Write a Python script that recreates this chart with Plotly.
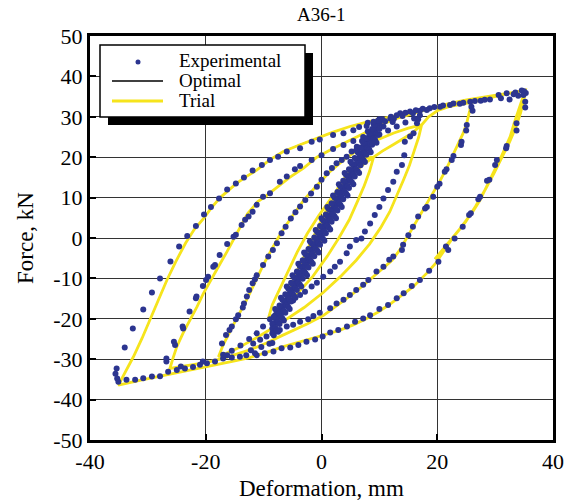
import plotly.graph_objects as go

# ---------------- data (deformation mm, force kN) ----------------
# Trial model path (yellow); Optimal model (black) follows essentially the same path
trial_small = [(0.0, 0.0), (1.5, 5.5), (3.5, 11.0), (2.5, 7.5), (1.0, 2.8), (-1.0, -3.2), (-2.5, -7.0),
               (-3.5, -8.5), (-2.5, -4.5), (-1.0, -0.2), (1.0, 6.0), (3.0, 11.5), (5.0, 16.5), (6.0, 18.5),
               (5.0, 14.8), (3.5, 10.0), (1.5, 4.2), (-1.0, -3.0), (-3.5, -10.0), (-5.5, -15.0), (-6.5, -16.5),
               (-5.5, -12.5), (-4.0, -7.5), (-2.0, -1.5), (0.5, 6.0), (3.0, 12.8), (5.5, 18.0), (7.5, 19.8)]
trial_l9 = [(9.0, 20.0), (8.3, 16.5), (7.4, 13.0), (6.2, 9.0), (4.8, 4.5), (3.0, 0.0), (1.0, -4.5),
            (-1.5, -9.5), (-4.0, -13.5), (-6.5, -17.0), (-9.2, -20.0),
            (-8.5, -16.5), (-7.2, -12.5), (-5.8, -8.0), (-4.2, -3.5), (-2.5, 1.0), (-0.5, 5.5), (1.5, 9.5),
            (3.5, 13.0), (5.5, 16.0), (7.3, 18.3), (9.0, 20.0),
            (10.5, 21.5), (12.3, 23.0), (14.0, 24.5), (15.5, 25.8)]
trial_l17 = [(17.3, 28.0), (16.8, 25.0), (16.0, 21.5), (15.2, 18.0), (14.2, 14.5), (13.0, 10.5), (11.8, 6.5),
             (10.2, 2.5), (8.3, -1.5), (6.0, -5.5), (3.3, -9.5), (0.3, -13.5), (-3.0, -17.2), (-7.0, -21.0),
             (-11.0, -24.5), (-14.5, -27.3), (-17.8, -29.4),
             (-17.0, -26.5), (-16.0, -23.5), (-14.7, -20.0), (-13.0, -15.5), (-11.5, -11.0), (-10.0, -6.5),
             (-8.5, -2.5), (-6.9, 1.5), (-5.0, 5.5), (-3.0, 9.5), (-0.8, 13.0), (1.5, 16.5), (4.0, 19.5),
             (6.5, 22.0), (9.5, 24.2), (12.5, 26.0), (15.0, 27.2), (17.3, 28.0),
             (18.5, 30.0), (20.0, 31.5), (22.0, 32.5), (24.0, 33.1)]
trial_l26 = [(25.9, 33.6), (25.6, 31.5), (25.1, 28.5), (24.5, 26.0), (23.7, 23.5), (22.8, 21.0), (21.7, 17.5),
             (20.5, 14.2), (19.3, 11.2), (18.2, 8.4), (17.0, 5.5), (15.9, 2.8), (14.7, 0.0), (13.5, -3.0),
             (12.2, -5.5), (10.5, -7.7), (8.9, -9.7), (7.0, -12.0), (4.9, -14.4), (2.5, -17.0), (0.3, -19.2),
             (-2.5, -21.3), (-4.9, -22.8), (-7.5, -24.6), (-9.5, -26.0), (-12.4, -27.7), (-15.2, -29.0),
             (-17.5, -30.0), (-19.8, -30.8), (-23.0, -31.6), (-26.2, -32.3),
             (-25.6, -29.5), (-25.0, -26.9), (-23.9, -23.5), (-22.7, -20.3), (-21.5, -17.0), (-20.4, -13.7),
             (-19.0, -10.0), (-17.5, -6.3), (-16.3, -3.3), (-15.2, -0.5), (-14.0, 2.8), (-12.8, 6.0),
             (-11.0, 9.0), (-9.5, 10.5), (-7.7, 12.5), (-5.5, 15.0), (-3.1, 17.3), (-0.8, 20.0), (1.5, 21.8),
             (4.0, 23.6), (6.1, 25.0), (8.5, 26.8), (10.7, 28.3), (13.0, 29.6), (15.3, 30.6), (17.5, 31.5),
             (19.5, 32.2), (22.5, 33.0), (25.9, 33.6),
             (28.0, 34.4), (30.8, 35.3), (33.0, 36.0)]
trial_l35 = [(35.2, 36.6), (34.6, 34.0), (34.0, 31.7), (33.3, 28.5), (32.6, 25.1), (31.7, 22.1), (30.8, 19.3),
             (29.9, 16.8), (29.1, 14.4), (28.2, 11.8), (27.4, 9.4), (26.3, 6.9), (25.1, 4.5), (23.9, 2.2),
             (22.8, 0.3), (21.6, -2.1), (20.5, -4.6), (19.9, -6.0), (18.2, -8.7), (15.9, -12.0), (13.6, -14.5),
             (11.8, -16.4), (9.8, -18.3), (7.8, -19.9), (5.5, -21.5), (3.2, -22.8), (-0.8, -24.5),
             (-3.7, -25.7), (-6.6, -26.9), (-9.5, -28.3), (-12.4, -29.6), (-15.2, -30.5), (-19.8, -31.8),
             (-23.5, -32.8), (-26.7, -33.7), (-31.0, -35.1), (-35.1, -36.4),
             (-34.3, -34.2), (-33.4, -31.7), (-32.5, -29.4), (-31.0, -24.8), (-29.6, -20.3), (-28.2, -15.4),
             (-26.7, -10.4), (-25.2, -5.9), (-23.5, -1.3), (-22.0, 2.1), (-20.4, 4.8), (-19.0, 7.5),
             (-17.5, 10.0), (-16.0, 12.0), (-14.7, 13.5), (-13.0, 15.2), (-11.2, 16.8), (-9.0, 19.3),
             (-6.6, 21.4), (-3.7, 23.1), (-0.8, 24.7), (2.0, 26.2), (4.9, 27.6), (7.8, 28.7), (10.7, 29.6),
             (13.0, 30.3), (15.3, 30.9), (17.3, 31.7), (19.3, 32.4), (22.2, 33.3), (25.1, 34.2), (28.0, 34.8),
             (30.8, 35.5), (33.0, 36.0), (35.2, 36.6),
             (35.0, 34.5), (34.4, 31.0), (33.6, 27.5), (32.5, 23.8), (31.2, 20.0), (29.8, 16.0), (28.3, 12.0),
             (26.6, 7.8), (24.9, 4.0), (23.2, 1.0), (21.6, -1.8), (19.6, -5.2)]

# Experimental points, grouped by branch
exp_envelope_up = [(-35.6, -33.6), (-35.4, -32.3), (-34.0, -27.1), (-32.6, -22.4), (-30.8, -17.7), (-29.3, -13.5),
                   (-27.9, -10.0), (-26.1, -5.8), (-24.6, -2.1), (-23.2, 0.5), (-21.7, 3.0), (-20.3, 5.8),
                   (-19.1, 7.7), (-17.7, 9.8), (-16.3, 12.0), (-14.8, 13.5), (-13.4, 15.0), (-11.9, 16.7),
                   (-10.3, 18.1), (-8.9, 19.3), (-7.5, 20.1), (-6.0, 21.4), (-3.7, 22.2), (-1.7, 23.8),
                   (-0.3, 24.4), (2.0, 25.5), (3.8, 25.9), (5.5, 26.7), (7.8, 27.7), (10.1, 28.8), (11.9, 29.6),
                   (13.6, 30.9), (15.3, 31.3), (17.0, 31.5), (18.7, 32.1), (20.5, 32.5), (22.2, 32.9),
                   (23.9, 33.2), (25.7, 33.7), (27.5, 34.0), (29.1, 34.3), (30.6, 35.4), (32.0, 35.8),
                   (33.5, 36.0), (34.6, 36.5),
                   (6.5, 27.5), (8.0, 28.5), (9.0, 28.2), (10.5, 29.4), (11.0, 28.9), (12.0, 30.0), (12.5, 29.5),
                   (13.0, 30.4), (14.0, 30.2), (14.5, 31.0), (15.8, 30.9), (16.3, 31.6), (17.5, 32.0),
                   (18.2, 31.7), (19.5, 32.4), (21.0, 32.8), (22.8, 33.3), (24.5, 33.5), (26.5, 33.9),
                   (28.2, 34.2), (31.0, 34.6), (32.5, 34.3), (33.2, 35.6), (34.0, 35.2), (35.0, 36.3), (35.3, 35.9)]
exp_l35_down = [(34.9, 35.4), (35.2, 33.7), (35.2, 32.3), (33.7, 28.4), (33.7, 26.6), (32.0, 22.8), (31.9, 22.2),
                (30.3, 19.3), (30.0, 18.1), (29.0, 14.4), (28.6, 14.2), (27.4, 10.2), (27.1, 9.6), (25.8, 6.1),
                (25.5, 5.7), (24.4, 2.8), (23.0, -0.1), (21.5, -2.1), (21.9, -3.0), (20.2, -5.9), (18.6, -8.1),
                (17.0, -10.4), (15.6, -11.9), (14.2, -13.7), (13.0, -14.9), (11.5, -16.6), (10.0, -17.6),
                (8.4, -19.1), (7.2, -19.9), (5.8, -20.7), (4.4, -21.9), (2.9, -22.8), (1.5, -23.4), (0.2, -24.4),
                (-1.1, -25.1), (-2.6, -25.7), (-4.0, -26.5), (-5.4, -27.1), (-6.9, -27.3), (-8.3, -28.1),
                (-9.8, -28.5), (-11.2, -29.0)]
exp_bottom = [(-35.1, -35.6), (-35.3, -34.8), (-33.7, -35.1), (-32.2, -35.1), (-30.8, -34.7), (-29.3, -34.3),
              (-27.9, -34.2), (-26.5, -33.1), (-25.0, -32.7), (-23.6, -32.3), (-22.2, -31.9), (-21.0, -31.4),
              (-19.8, -31.0), (-18.4, -30.6), (-17.0, -29.8), (-15.5, -29.6), (-14.1, -29.4), (-13.0, -29.0),
              (-11.5, -28.5), (-24.3, -31.8), (-20.5, -30.6), (-16.3, -29.0), (-12.2, -27.8), (-10.4, -27.0),
              (-9.0, -26.2)]
exp_l26_up = [(-26.8, -29.8), (-26.8, -30.6), (-25.5, -25.7), (-25.3, -26.5), (-24.0, -21.9), (-23.9, -22.4),
              (-22.8, -18.2), (-21.7, -14.9), (-21.6, -14.5), (-20.5, -11.9), (-19.95, -10.4), (-19.6, -9.6),
              (-18.7, -7.1), (-18.4, -6.7), (-17.6, -4.2), (-16.3, -1.5), (-15.2, 0.3), (-14.8, 0.8),
              (-13.8, 3.2), (-13.2, 4.5), (-12.6, 5.3), (-11.9, 6.5), (-11.2, 8.2), (-10.1, 10.2), (-8.9, 11.1),
              (-7.2, 13.9), (-6.0, 15.2), (-4.6, 17.0), (-3.7, 17.8), (-1.7, 19.3), (0.0, 20.5), (2.0, 22.0),
              (3.8, 23.0), (5.5, 24.0), (7.2, 25.0), (8.9, 26.3), (10.7, 27.6), (12.3, 28.7)]
exp_l26_down = [(25.9, 32.5), (26.1, 31.5), (25.1, 28.0), (25.0, 26.6), (24.2, 23.8), (24.1, 23.0), (22.8, 20.3),
                (22.5, 19.3), (21.6, 17.0), (21.3, 16.4), (20.4, 13.4), (20.0, 12.7), (19.3, 10.2), (18.2, 7.7),
                (17.9, 7.3), (16.7, 5.3), (15.8, 2.8), (15.0, 0.7), (14.1, -1.7), (13.9, -3.0), (12.4, -4.6),
                (11.7, -5.4), (10.7, -7.1), (9.5, -8.3), (8.1, -10.4), (7.2, -11.6), (6.0, -12.9), (4.9, -14.1),
                (3.8, -15.3), (2.6, -16.2), (1.5, -17.4), (-0.3, -18.5), (-1.4, -19.3), (-2.3, -20.1),
                (-3.7, -20.7), (-4.9, -21.5), (-6.0, -21.9), (-7.2, -22.8), (-8.3, -23.6), (-9.5, -24.4),
                (-10.6, -25.2), (-11.8, -26.1)]
exp_l17_down = [(17.0, 30.4), (16.7, 29.4), (16.5, 28.4), (15.9, 25.9), (15.3, 25.1), (14.4, 23.8), (14.3, 20.5),
                (13.9, 18.1), (13.0, 16.4), (12.4, 13.9), (11.5, 11.9), (10.7, 9.8), (10.0, 7.7), (9.2, 5.7),
                (8.4, 3.6), (7.5, 1.6), (6.9, -0.1), (6.0, -0.5), (4.9, -2.1), (4.35, -3.8), (3.2, -5.9),
                (2.3, -7.1), (1.5, -8.3), (0.3, -9.6), (-0.8, -11.1), (-1.7, -12.0), (-2.85, -13.3),
                (-3.7, -14.1), (-4.9, -15.5), (-6.0, -16.6), (-7.05, -17.8), (-8.0, -19.1), (-8.9, -20.1),
                (-10.1, -21.9), (-11.2, -23.6), (-12.5, -25.0), (-14.0, -26.6), (-15.5, -27.9), (-17.0, -28.9)]
exp_l17_up = [(-17.2, -26.1), (-16.5, -24.0), (-15.9, -22.8), (-15.5, -21.9), (-14.8, -20.1), (-14.4, -19.1),
              (-13.6, -17.2), (-13.4, -16.2), (-12.9, -14.5), (-12.5, -12.9), (-11.9, -11.2), (-11.5, -10.2),
              (-11.2, -9.2), (-10.1, -6.7), (-9.2, -4.6), (-8.4, -3.0), (-7.7, -1.3), (-6.9, 1.2), (-6.2, 2.8),
              (-5.3, 4.8), (-4.5, 6.4), (-3.7, 7.8), (-2.8, 9.4), (-1.8, 11.0), (-0.8, 12.7), (0.0, 14.4),
              (0.9, 16.0), (1.8, 17.3), (2.6, 18.5), (3.5, 19.3), (4.35, 20.1), (5.2, 21.4), (6.1, 22.6),
              (7.3, 23.5), (8.6, 24.6), (10.0, 25.6), (11.5, 26.6), (13.0, 27.6), (14.5, 28.6), (16.0, 29.6)]
exp_band_mid = [(-8.5, -22.4), (-8.0, -21.0), (-7.5, -19.6), (-7.0, -18.2), (-6.5, -16.8), (-6.0, -15.4),
                (-5.5, -14.0), (-5.0, -12.6), (-4.5, -11.2), (-4.0, -9.8), (-3.5, -8.4), (-3.0, -7.0),
                (-2.5, -5.6), (-2.0, -4.2), (-1.5, -2.8), (-1.0, -1.4), (-0.5, 0.0), (0.0, 1.5), (0.5, 2.9),
                (1.0, 4.3), (1.5, 5.7), (2.0, 7.1), (2.5, 8.5), (3.0, 9.9), (3.5, 11.3), (4.0, 12.7), (4.5, 14.1),
                (5.0, 15.5), (5.5, 16.9), (6.0, 18.3), (6.5, 19.7), (7.0, 21.0), (7.5, 22.2), (8.0, 23.4),
                (8.5, 24.6), (9.0, 25.8), (9.5, 27.0), (10.0, 28.2)]
exp_band_mid_hi = [(-8.5, -21.2), (-8.0, -19.8), (-7.5, -18.4), (-7.0, -17.0), (-6.5, -15.6), (-6.0, -14.2),
                   (-5.5, -12.8), (-5.0, -11.4), (-4.5, -10.0), (-4.0, -8.6), (-3.5, -7.2), (-3.0, -5.8),
                   (-2.5, -4.4), (-2.0, -3.0), (-1.5, -1.6), (-1.0, -0.2), (-0.5, 1.2), (0.0, 2.7), (0.5, 4.1),
                   (1.0, 5.5), (1.5, 6.9), (2.0, 8.3), (2.5, 9.7), (3.0, 11.1), (3.5, 12.5), (4.0, 13.9),
                   (4.5, 15.3), (5.0, 16.7), (5.5, 18.1), (6.0, 19.5), (6.5, 20.9), (7.0, 22.2), (7.5, 23.4),
                   (8.0, 24.6), (8.5, 25.8), (9.0, 27.0), (9.5, 28.2), (10.0, 29.4)]
exp_band_mid_lo = [(-8.5, -23.6), (-8.0, -22.2), (-7.5, -20.8), (-7.0, -19.4), (-6.5, -18.0), (-6.0, -16.6),
                   (-5.5, -15.2), (-5.0, -13.8), (-4.5, -12.4), (-4.0, -11.0), (-3.5, -9.6), (-3.0, -8.2),
                   (-2.5, -6.8), (-2.0, -5.4), (-1.5, -4.0), (-1.0, -2.6), (-0.5, -1.2), (0.0, 0.3), (0.5, 1.7),
                   (1.0, 3.1), (1.5, 4.5), (2.0, 5.9), (2.5, 7.3), (3.0, 8.7), (3.5, 10.1), (4.0, 11.5),
                   (4.5, 12.9), (5.0, 14.3), (5.5, 15.7), (6.0, 17.1), (6.5, 18.5), (7.0, 19.8), (7.5, 21.0),
                   (8.0, 22.2), (8.5, 23.4), (9.0, 24.6), (9.5, 25.8), (10.0, 27.0)]
exp_band_upper = [(-8.25, -19.5), (-7.75, -18.1), (-7.25, -16.7), (-6.75, -15.3), (-6.25, -13.9), (-5.75, -12.5),
                  (-5.25, -11.1), (-4.75, -9.7), (-4.25, -8.3), (-3.75, -6.9), (-3.25, -5.5), (-2.75, -4.1),
                  (-2.25, -2.7), (-1.75, -1.3), (-1.25, 0.1), (-0.75, 1.5), (-0.25, 3.0), (0.25, 4.4),
                  (0.75, 5.8), (1.25, 7.2), (1.75, 8.6), (2.25, 10.0), (2.75, 11.4), (3.25, 12.8), (3.75, 14.2),
                  (4.25, 15.6), (4.75, 17.0), (5.25, 18.4), (5.75, 19.8), (6.25, 21.2), (6.75, 22.4),
                  (7.25, 23.5), (7.75, 24.7), (8.25, 25.8), (8.75, 27.0), (9.25, 28.0), (9.75, 29.0)]
exp_band_lower = [(-8.25, -24.1), (-7.75, -22.7), (-7.25, -21.3), (-6.75, -19.9), (-6.25, -18.5), (-5.75, -17.1),
                  (-5.25, -15.7), (-4.75, -14.3), (-4.25, -12.9), (-3.75, -11.5), (-3.25, -10.1), (-2.75, -8.7),
                  (-2.25, -7.3), (-1.75, -5.9), (-1.25, -4.5), (-0.75, -3.1), (-0.25, -1.7), (0.25, -0.2),
                  (0.75, 1.2), (1.25, 2.6), (1.75, 4.0), (2.25, 5.4), (2.75, 6.8), (3.25, 8.2), (3.75, 9.6),
                  (4.25, 11.0), (4.75, 12.4), (5.25, 13.8), (5.75, 15.2), (6.25, 16.6), (6.75, 18.0),
                  (7.25, 19.3), (7.75, 20.6), (8.25, 21.9), (8.75, 23.1), (9.25, 24.3), (9.75, 25.5)]
exp_band_outer_hi = [(-8.0, -17.6), (-7.0, -14.8), (-6.0, -12.0), (-5.0, -9.2), (-4.0, -6.4), (-3.0, -3.6),
                     (-2.0, -0.8), (-1.0, 2.0), (0.0, 4.9), (1.0, 7.7), (2.0, 10.5), (3.0, 13.3), (4.0, 16.1),
                     (5.0, 18.9), (6.0, 21.7), (7.0, 24.0), (8.0, 26.4), (9.0, 28.8)]
exp_band_outer_lo = [(-8.5, -26.0), (-7.5, -23.2), (-6.5, -20.4), (-5.5, -17.6), (-4.5, -14.8), (-3.5, -12.0),
                     (-2.5, -9.2), (-1.5, -6.4), (-0.5, -3.6), (0.5, -0.7), (1.5, 2.1), (2.5, 4.9), (3.5, 7.7),
                     (4.5, 10.5), (5.5, 13.3), (6.5, 16.1), (7.5, 18.8), (8.5, 21.2), (9.5, 23.6)]

x_ticks = [-40, -20, 0, 20, 40]
y_ticks = [-50, -40, -30, -20, -10, 0, 10, 20, 30, 40, 50]

# ---------------- assemble ----------------
trial_path = trial_small + trial_l9 + trial_l17 + trial_l26 + trial_l35
optimal_path = trial_small + trial_l9 + trial_l17 + trial_l26 + trial_l35
exp_all = (exp_envelope_up + exp_l35_down + exp_bottom + exp_l26_up + exp_l26_down + exp_l17_down
           + exp_l17_up + exp_band_mid + exp_band_mid_hi + exp_band_mid_lo + exp_band_upper + exp_band_lower
           + exp_band_outer_hi + exp_band_outer_lo)

tx, ty = zip(*trial_path)
ox, oy = zip(*optimal_path)
ex, ey = zip(*exp_all)

FONT = "Liberation Serif, Times New Roman, serif"
YELLOW = "#f6e41c"
BLUE = "#2c3590"

fig = go.Figure()
fig.add_trace(go.Scatter(x=ox, y=oy, mode="lines", name="Optimal",
                         line=dict(color="black", width=1.2)))
fig.add_trace(go.Scatter(x=tx, y=ty, mode="lines", name="Trial",
                         line=dict(color=YELLOW, width=2.8)))
fig.add_trace(go.Scatter(x=ex, y=ey, mode="markers", name="Experimental",
                         marker=dict(size=6, color=BLUE, line=dict(width=0))))

W, H = 576, 503
L, R, T, B = 90, 553, 36, 440


def px(xp):
    return (xp - L) / (R - L)


def py(yp):
    return (B - yp) / (B - T)


shapes = [
    # legend shadow and box
    dict(type="rect", xref="paper", yref="paper", x0=px(108), x1=px(313), y0=py(125), y1=py(53),
         fillcolor="black", line=dict(width=0), layer="above"),
    dict(type="rect", xref="paper", yref="paper", x0=px(100), x1=px(305), y0=py(117), y1=py(45),
         fillcolor="white", line=dict(color="black", width=1.5), layer="above"),
    dict(type="circle", xref="paper", yref="paper", x0=px(135.5), x1=px(140.5), y0=py(64.5), y1=py(59.5),
         fillcolor=BLUE, line=dict(width=0), layer="above"),
    dict(type="line", xref="paper", yref="paper", x0=px(112), x1=px(163), y0=py(81), y1=py(81),
         line=dict(color="black", width=1.5), layer="above"),
    dict(type="line", xref="paper", yref="paper", x0=px(112), x1=px(163), y0=py(101), y1=py(101),
         line=dict(color=YELLOW, width=3), layer="above"),
]

annotations = [
    dict(text="Experimental", xref="paper", yref="paper", x=px(177), y=py(60), xanchor="left",
         yanchor="middle", showarrow=False, font=dict(family=FONT, size=19, color="black")),
    dict(text="Optimal", xref="paper", yref="paper", x=px(177), y=py(80), xanchor="left",
         yanchor="middle", showarrow=False, font=dict(family=FONT, size=19, color="black")),
    dict(text="Trial", xref="paper", yref="paper", x=px(177), y=py(100), xanchor="left",
         yanchor="middle", showarrow=False, font=dict(family=FONT, size=19, color="black")),
    dict(text="A36-1", xref="paper", yref="paper", x=0.5, y=py(15), xanchor="center",
         yanchor="middle", showarrow=False, font=dict(family=FONT, size=19, color="black")),
    dict(text="Deformation, mm", xref="paper", yref="paper", x=0.5, y=py(489), xanchor="center",
         yanchor="middle", showarrow=False, font=dict(family=FONT, size=23, color="black")),
    dict(text="Force, kN", xref="paper", yref="paper", x=px(25), y=0.5, xanchor="center",
         yanchor="middle", textangle=-90, showarrow=False, font=dict(family=FONT, size=23, color="black")),
]

fig.update_layout(
    width=W, height=H,
    margin=dict(l=L, r=W - R, t=T, b=H - B),
    paper_bgcolor="white", plot_bgcolor="white",
    showlegend=False,
    font=dict(family=FONT, size=22, color="black"),
    shapes=shapes, annotations=annotations,
    xaxis=dict(range=[-40, 40], tickvals=x_ticks, ticktext=[str(v) for v in x_ticks],
               showgrid=True, gridcolor="#333333", gridwidth=1.2, zeroline=False,
               showline=True, linecolor="black", linewidth=3, mirror=True,
               ticks="inside", ticklen=6, tickwidth=2, tickcolor="black",
               tickfont=dict(family=FONT, size=22, color="black")),
    yaxis=dict(range=[-50, 50], tickvals=y_ticks, ticktext=[str(v) for v in y_ticks],
               showgrid=True, gridcolor="#333333", gridwidth=1.2, zeroline=False,
               showline=True, linecolor="black", linewidth=3, mirror=True,
               ticks="inside", ticklen=6, tickwidth=2, tickcolor="black",
               tickfont=dict(family=FONT, size=22, color="black")),
)

fig.write_html("out.html")
